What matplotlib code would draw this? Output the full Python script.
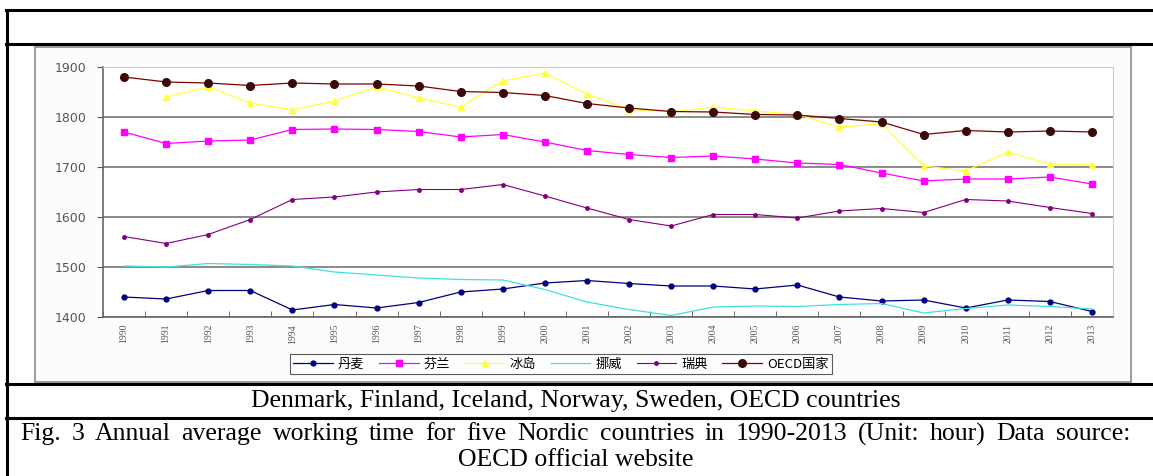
import matplotlib
matplotlib.use('Agg')
import matplotlib.pyplot as plt
from matplotlib.patches import Rectangle
import numpy as np

plt.rcParams['font.family'] = ['Noto Sans CJK SC', 'DejaVu Sans']

#=========================#
# data (hours per year)
#=========================#

years = [str(y) for y in range(1990, 2014)]

denmark = [1440, 1436, 1453, 1453, 1414, 1425, 1418, 1429, 1450, 1456, 1468, 1473,
           1467, 1462, 1462, 1456, 1464, 1440, 1432, 1434, 1418, 1434, 1431, 1411]
finland = [1770, 1747, 1752, 1754, 1775, 1776, 1775, 1771, 1760, 1765, 1750, 1733,
           1725, 1719, 1722, 1716, 1708, 1705, 1688, 1672, 1676, 1676, 1680, 1666]
iceland = [np.nan, 1840, 1860, 1828, 1814, 1832, 1860, 1838, 1820, 1872, 1888, 1846,
           1815, 1810, 1820, 1812, 1805, 1780, 1786, 1702, 1692, 1730, 1706, 1704]
norway = [1502, 1500, 1507, 1505, 1502, 1490, 1484, 1478, 1475, 1474, 1455, 1430,
          1415, 1403, 1420, 1422, 1421, 1425, 1427, 1408, 1417, 1424, 1421, 1416]
sweden = [1561, 1547, 1565, 1595, 1635, 1640, 1650, 1655, 1655, 1665, 1642, 1618,
          1595, 1582, 1605, 1605, 1598, 1612, 1617, 1609, 1635, 1632, 1619, 1607]
oecd = [1880, 1870, 1868, 1863, 1868, 1866, 1866, 1862, 1851, 1849, 1843, 1827,
        1818, 1811, 1810, 1805, 1804, 1797, 1790, 1765, 1773, 1770, 1772, 1770]

labels = ['丹麦', '芬兰', '冰岛', '挪威', '瑞典', 'OECD国家']

caption_1 = 'Denmark, Finland, Iceland, Norway, Sweden, OECD countries'
caption_2 = 'Fig. 3 Annual average working time for five Nordic countries in 1990-2013 (Unit: hour) Data source:'
caption_3 = 'OECD official website'

W, H = 1153, 476
fig = plt.figure(figsize=(W / 100, H / 100), dpi=100)

#=========================#
# table frame and captions (pixel coordinates)
#=========================#

bg = fig.add_axes([0, 0, 1, 1])
bg.set_xlim(0, W)
bg.set_ylim(H, 0)
bg.axis('off')

lw = 2.2
bg.plot([6, W], [10, 10], color='black', linewidth=lw)
bg.plot([6, W], [44, 44], color='black', linewidth=lw)
bg.plot([6, W], [384, 384], color='black', linewidth=lw)
bg.plot([6, W], [418, 418], color='black', linewidth=lw)
bg.plot([7, 7], [10, 476], color='black', linewidth=lw)

bg.add_patch(Rectangle((35, 47), 1096, 335, facecolor='#fcfcfc', edgecolor='#8a8a8a', linewidth=1.2))

serif = ['Liberation Serif', 'DejaVu Serif']
fs = 18.5
bg.text(576, 401, caption_1, ha='center', va='center', fontsize=fs, family=serif)
bg.text(576, 460, caption_3, ha='center', va='center', fontsize=fs, family=serif)

# first line of the figure title is justified across the cell
renderer = fig.canvas.get_renderer()
words = caption_2.split()
objs = [bg.text(0, 434, w, ha='left', va='center', fontsize=fs, family=serif) for w in words]
widths = [t.get_window_extent(renderer).width for t in objs]
x0, x1 = 20, 1130
gap = (x1 - x0 - sum(widths)) / (len(words) - 1)
pos = x0
for t, w in zip(objs, widths):
    t.set_x(pos)
    pos += w + gap

#=========================#
# line chart
#=========================#

ax = fig.add_axes([103 / W, 1 - 317 / H, 1010 / W, 250 / H])
x = np.arange(len(years))

ax.plot(x, denmark, color='#000080', linewidth=0.9, marker='o', markersize=3.5, label=labels[0])
ax.plot(x, finland, color='#ff00ff', linewidth=0.9, marker='s', markersize=5, label=labels[1])
ax.plot(x, iceland, color='#ffff40', linewidth=0.9, marker='^', markersize=4, label=labels[2])
ax.plot(x, norway, color='#40e0e0', linewidth=0.9, label=labels[3])
ax.plot(x, sweden, color='#800080', linewidth=0.8, marker='o', markersize=2.5, label=labels[4])
ax.plot(x, oecd, color='#800000', linewidth=0.9, marker='o', markersize=5.5,
        markerfacecolor='#3a0a0a', markeredgecolor='#3a0a0a', label=labels[5])

ax.set_xlim(-0.5, len(years) - 0.5)
ax.set_ylim(1400, 1900)
ax.set_yticks(range(1400, 1901, 100))
ax.set_yticklabels([str(v) for v in range(1400, 1901, 100)], fontsize=9, color='#555555',
                   family=['DejaVu Sans'])
ax.set_xticks(x)
ax.set_xticklabels(years, rotation=90, fontsize=7, color='#555555', family=serif)
ax.set_xticks(np.arange(-0.5, len(years)), minor=True)
ax.tick_params(axis='x', which='major', length=0, pad=5)
ax.tick_params(axis='x', which='minor', length=4, direction='in', color='#555555')
ax.tick_params(axis='y', length=4, color='#555555', pad=8)
ax.grid(axis='y', color='#777777', linewidth=1.2)
ax.set_axisbelow(True)
for side in ['left', 'bottom']:
    ax.spines[side].set_color('#666666')
    ax.spines[side].set_linewidth(1.2)
for side in ['top', 'right']:
    ax.spines[side].set_color('#cccccc')

leg = fig.legend(loc='center', bbox_to_anchor=(561 / W, 1 - 364 / H), ncol=6, fontsize=9.5,
                 frameon=True, fancybox=False, edgecolor='#333333', borderpad=0.25,
                 handlelength=3.0, columnspacing=1.1, handletextpad=0.4)
leg.get_frame().set_linewidth(0.8)

fig.savefig('out.png', dpi=100)
